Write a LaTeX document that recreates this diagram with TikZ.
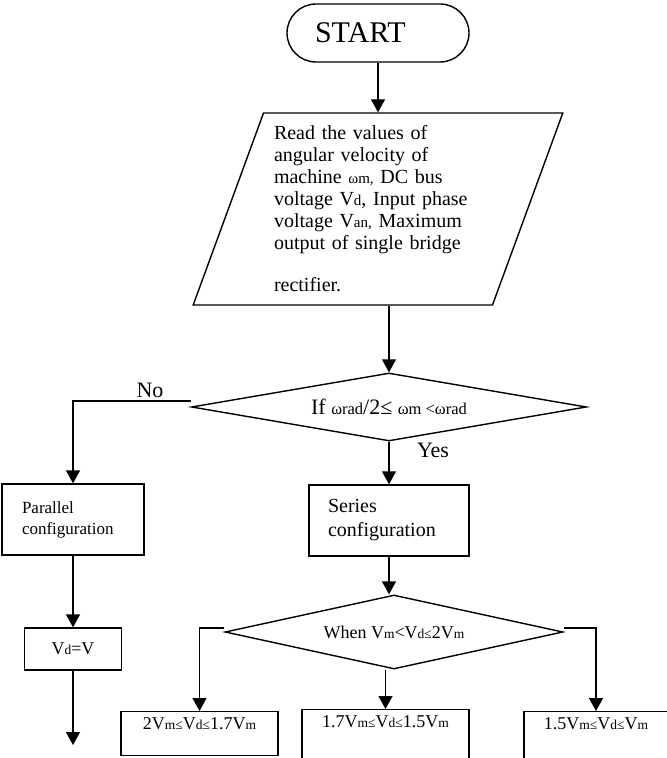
\documentclass[tikz,border=0pt]{standalone}
\usepackage{fontspec}
\setmainfont{Liberation Serif}
\usetikzlibrary{shapes.geometric,arrows.meta}

\makeatletter
\newcommand\sm[1]{{\fontsize{\fpeval{0.75*\f@size}}{1}\selectfont #1}}
\makeatother

\tikzset{
	term/.style={draw, rounded corners=14.5pt, minimum width=91pt, minimum height=29pt,
		text width=63pt, inner xsep=14pt, align=left, font=\fontsize{15}{18}\selectfont},
	io/.style={draw, trapezium, trapezium left angle=69, trapezium right angle=111,
		trapezium stretches=true, minimum width=185pt, minimum height=96pt,
		text width=104pt, align=left, inner sep=0pt, font=\fontsize{10}{11}\selectfont},
	dec/.style={draw, diamond, inner sep=0pt},
	proc/.style={draw, rectangle, align=left},
	rng/.style={draw, rectangle, anchor=north, text height=6pt, inner ysep=3pt,
		font=\fontsize{9}{10}\selectfont},
}

\begin{document}
\begin{tikzpicture}[x=0.5pt, y=-0.5pt, line width=0.7pt, >={Triangle[length=6.5pt,width=7pt]}, ->]

	\useasboundingbox (0,0) rectangle (667,758);

	% === NODES === (((
	\node[term] (start) at (378,33) {START};

	\node[io] (read) at (378,209) {Read the values of\\ angular velocity of\\
		machine \sm{ωm,} DC bus\\ voltage V\sm{d}, Input phase\\
		voltage V\sm{an,} Maximum\\ output of single bridge\\[10pt] rectifier.};

	\node[dec, aspect=5.8, minimum width=197.5pt, minimum height=34pt,
		font=\fontsize{11}{12}\selectfont] (cond1) at (389,407)
		{If \sm{ωrad}/2≤ \sm{ωm <ωrad}};
	\node[font=\fontsize{11}{12}\selectfont] (no) at (150,390) {No};
	\node[font=\fontsize{11}{12}\selectfont] (yes) at (433,450) {Yes};

	\node[proc, minimum width=71pt, minimum height=35.5pt, text width=51pt, inner xsep=10pt,
		font=\fontsize{8.5}{10.5}\selectfont] (par) at (73,519.5) {Parallel\\configuration};
	\node[proc, minimum width=80pt, minimum height=35.5pt, text width=61pt, inner xsep=9.5pt,
		font=\fontsize{10}{12}\selectfont] (series) at (389,520.5) {Series\\configuration};

	\node[proc, minimum width=48.5pt, minimum height=21pt, align=center,
		font=\fontsize{9}{10}\selectfont] (vd) at (73,649) {V\sm{d}=V};
	\coordinate (out) at (73,745);

	\node[dec, aspect=4.6, minimum width=169pt, minimum height=37pt,
		font=\fontsize{9}{10}\selectfont] (cond2) at (394,632)
		{When V\sm{m}<V\sm{d≤}2V\sm{m}};

	\node[rng, minimum width=78.5pt, text depth=10pt] (b1) at (199.5,711) {2V\sm{m≤}V\sm{d≤}1.7V\sm{m}};
	\node[rng, minimum width=83.5pt, text depth=24pt] (b2) at (385.5,709) {1.7V\sm{m≤}V\sm{d≤}1.5V\sm{m}};
	\node[rng, minimum width=72pt, text depth=24pt] (b3) at (596,711) {1.5V\sm{m≤}V\sm{d≤}V\sm{m}};
	% )))

	% === LINES === (((
	\draw (start) -- (read);
	\draw (read.south -| cond1) -- (cond1);

	\draw ([yshift=3pt]cond1.west) -| (par);
	\draw (cond1) -- (series);

	\draw (par) -- (vd);
	\draw (vd) -- (out);

	\draw (series) -- (series |- cond2.north);

	\draw ([yshift=2pt]cond2.west) -| (b1);
	\draw (b2 |- cond2.south) -- (b2);
	\draw ([yshift=2pt]cond2.east) -| (b3);
	% )))

\end{tikzpicture}
\end{document}
